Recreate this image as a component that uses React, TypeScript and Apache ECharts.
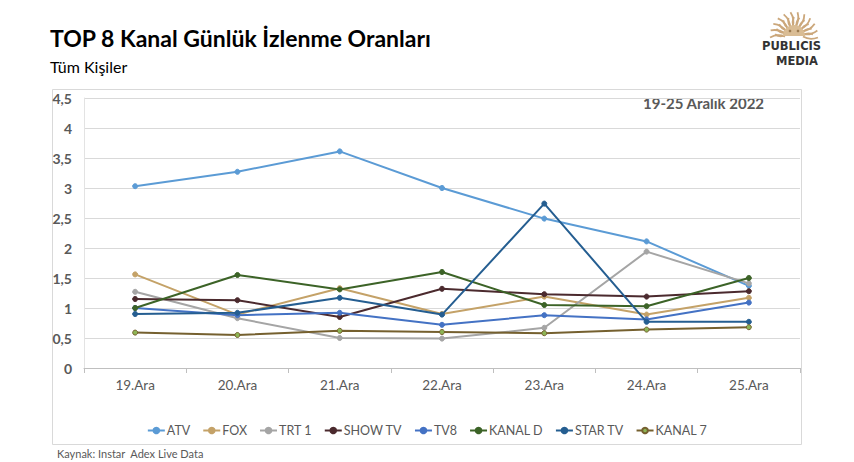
import React, { useEffect, useRef } from "react";
import * as echarts from "echarts";

const categories = ["19.Ara", "20.Ara", "21.Ara", "22.Ara", "23.Ara", "24.Ara", "25.Ara"];
const seriesNames = ["ATV", "FOX", "TRT 1", "SHOW TV", "TV8", "KANAL D", "STAR TV", "KANAL 7"];
const atv = [3.03, 3.27, 3.61, 3.0, 2.49, 2.11, 1.37];
const fox = [1.56, 0.89, 1.33, 0.9, 1.19, 0.89, 1.17];
const trt1 = [1.27, 0.83, 0.5, 0.49, 0.67, 1.94, 1.41];
const showTv = [1.15, 1.13, 0.85, 1.32, 1.23, 1.19, 1.28];
const tv8 = [1.0, 0.88, 0.92, 0.72, 0.88, 0.81, 1.09];
const kanalD = [1.0, 1.55, 1.31, 1.6, 1.05, 1.03, 1.5];
const starTv = [0.9, 0.92, 1.17, 0.89, 2.74, 0.77, 0.77];
const kanal7 = [0.59, 0.55, 0.62, 0.6, 0.58, 0.64, 0.68];
const seriesValues = [atv, fox, trt1, showTv, tv8, kanalD, starTv, kanal7];
const lineColors = ["#5B9BD5", "#C4A268", "#A5A5A5", "#4B2A2E", "#4472C4", "#3C6327", "#255E91", "#75602F"];
const markerColors = ["#5B9BD5", "#C4A268", "#A5A5A5", "#4B2A2E", "#4472C4", "#3C6327", "#255E91", "#8DB555"];
const yTicks = { min: 0, max: 4.5, interval: 0.5 };

const FONT = "Lato, 'Open Sans', sans-serif";

function logoGraphics() {
  const cx = 794;
  const cy = 36;
  const gold = "#CBA77B";
  const rays: any[] = [];
  const n = 23;
  for (let i = 0; i < n; i++) {
    const a = Math.PI * 0.98 + (Math.PI * 1.04 * i) / (n - 1);
    const r1 = 9;
    const r2 = i % 2 === 0 ? 24 : 19;
    const bend = i % 2 === 0 ? 0.22 : -0.2;
    rays.push({
      type: "bezierCurve",
      shape: {
        x1: cx + r1 * Math.cos(a),
        y1: cy + r1 * Math.sin(a),
        x2: cx + r2 * Math.cos(a),
        y2: cy + r2 * Math.sin(a),
        cpx1: cx + ((r1 + r2) / 2) * Math.cos(a + bend),
        cpy1: cy + ((r1 + r2) / 2) * Math.sin(a + bend),
      },
      style: { stroke: gold, lineWidth: 1.8, fill: null },
      silent: true,
    });
  }
  return [
    ...rays,
    {
      type: "sector",
      shape: { cx, cy, r: 11, r0: 0, startAngle: Math.PI, endAngle: 2 * Math.PI },
      style: { fill: "#D9BC94" },
      silent: true,
    },
    {
      type: "circle",
      shape: { cx: cx - 4, cy: cy - 5, r: 1.3 },
      style: { fill: "#9C7A50" },
      silent: true,
    },
    {
      type: "circle",
      shape: { cx: cx + 4, cy: cy - 5, r: 1.3 },
      style: { fill: "#9C7A50" },
      silent: true,
    },
    {
      type: "text",
      left: 762,
      top: 40,
      style: { text: "PUBLICIS", fontFamily: "'DejaVu Sans', sans-serif", fontWeight: "bold", fontSize: 11.5, fill: "#333333" },
    },
    {
      type: "text",
      left: 776,
      top: 55,
      style: { text: "MEDIA", fontFamily: "'DejaVu Sans', sans-serif", fontWeight: "bold", fontSize: 11.5, fill: "#333333" },
    },
  ];
}

export default function App() {
  const ref = useRef<HTMLDivElement>(null);
  useEffect(() => {
    if (!ref.current) return;
    const chart = echarts.init(ref.current, null, { renderer: "svg" });
    chart.setOption({
      animation: false,
      backgroundColor: "#FFFFFF",
      textStyle: { fontFamily: FONT },
      grid: { left: 84, right: 54, top: 98, bottom: 94, containLabel: false },
      xAxis: {
        type: "category",
        data: categories,
        boundaryGap: true,
        axisLine: { show: true, lineStyle: { color: "#BFBFBF", width: 1 } },
        axisTick: { show: true, alignWithLabel: false, length: 5, lineStyle: { color: "#BFBFBF" } },
        axisLabel: { color: "#595959", fontSize: 13.5, margin: 10, fontFamily: FONT },
        splitLine: { show: false },
      },
      yAxis: {
        type: "value",
        min: yTicks.min,
        max: yTicks.max,
        interval: yTicks.interval,
        axisLine: { show: true, lineStyle: { color: "#E3E3E3" } },
        axisTick: { show: false },
        axisLabel: {
          color: "#595959",
          fontSize: 14,
          fontWeight: "bold",
          margin: 12,
          fontFamily: FONT,
          formatter: (v: number) => String(v).replace(".", ","),
        },
        splitLine: { show: true, lineStyle: { color: "#D9D9D9", width: 1 } },
      },
      legend: {
        data: seriesNames,
        left: "center",
        top: 419,
        itemWidth: 17,
        itemHeight: 7,
        itemGap: 12,
        textStyle: { color: "#595959", fontSize: 12.5, fontFamily: FONT, padding: [0, 0, 0, -3] },
      },
      series: seriesNames.map((name, i) => ({
        name,
        type: "line",
        data: seriesValues[i],
        symbol: "circle",
        symbolSize: 5,
        showSymbol: true,
        lineStyle: { color: lineColors[i], width: 2 },
        itemStyle: { color: markerColors[i], borderColor: lineColors[i], borderWidth: 1 },
        z: 2 + i,
      })),
      graphic: [
        {
          type: "rect",
          shape: { x: 52.5, y: 89.5, width: 749, height: 355 },
          style: { fill: null, stroke: "#D9D9D9", lineWidth: 1 },
          silent: true,
          z: -1,
        },
        {
          type: "text",
          left: 50,
          top: 26,
          style: { text: "TOP 8 Kanal Günlük İzlenme Oranları", fontFamily: FONT, fontWeight: "bold", fontSize: 23, fill: "#000000" },
        },
        {
          type: "text",
          left: 50,
          top: 58,
          style: { text: "Tüm Kişiler", fontFamily: FONT, fontSize: 16, fill: "#000000" },
        },
        {
          type: "text",
          left: 643,
          top: 95,
          style: { text: "19-25 Aralık 2022", fontFamily: FONT, fontWeight: "bold", fontSize: 15, fill: "#595959" },
        },
        {
          type: "text",
          left: 57,
          top: 448,
          style: { text: "Kaynak: Instar  Adex Live Data", fontFamily: FONT, fontSize: 11, fill: "#595959" },
        },
        ...logoGraphics(),
      ],
    });
    return () => chart.dispose();
  }, []);
  return <div ref={ref} style={{ position: "fixed", left: 0, top: 0, width: 854, height: 462 }} />;
}
